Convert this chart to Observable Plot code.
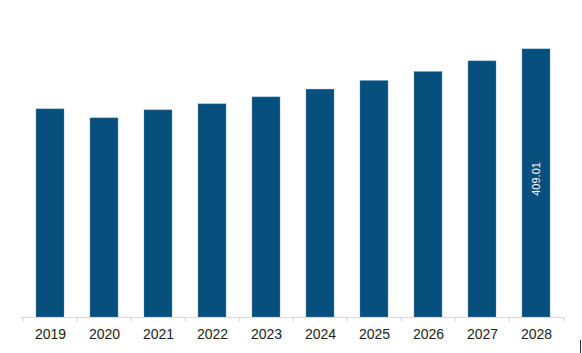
<!DOCTYPE html>
<html>
<head>
<meta charset="utf-8">
<script src="https://cdn.jsdelivr.net/npm/d3@7"></script>
<script src="https://cdn.jsdelivr.net/npm/@observablehq/plot@0.6"></script>
<style>
  html, body { margin: 0; padding: 0; background: #fff; }
  #wrap { position: relative; width: 582px; height: 353px; overflow: hidden; }
  #mark { position: absolute; left: 580px; top: 340px; width: 0; height: 13px; border-left: 1.5px solid #333; }
</style>
</head>
<body>
<div id="wrap"><div id="mark"></div></div>
<script>
const years = ["2019","2020","2021","2022","2023","2024","2025","2026","2027","2028"];
const values = [317.5, 303.8, 316.0, 325.2, 335.8, 347.6, 360.7, 374.4, 390.7, 409.01];
const labelYears = ["2028"];
const labelValues = [409.01];

const data = years.map((y, i) => ({year: y, value: values[i]}));
const labels = labelYears.map((y, i) => ({year: y, value: labelValues[i]}));

const barColor = "#07507e";
const gridColor = "#d9d9d9";
const step = (582 - 21 - 17) / years.length;

const chart = Plot.plot({
  width: 582,
  height: 353,
  marginLeft: 21,
  marginRight: 17,
  marginTop: 22,
  marginBottom: 36,
  style: {fontFamily: "'Liberation Sans', Arial, sans-serif", background: "#fff"},
  x: {domain: years, paddingInner: 0.48, paddingOuter: 0.24, label: null},
  y: {domain: [0, 450], axis: null},
  marks: [
    Plot.barY(data, {x: "year", y: "value", fill: barColor, stroke: "#5f8db0", strokeWidth: 0.6, strokeOpacity: 0.6}),
    Plot.ruleY([0], {stroke: gridColor, strokeWidth: 1.2}),
    Plot.ruleX(years, {x: d => d, y1: 0, y2: 0, insetBottom: -4.5, dx: -step / 2, stroke: gridColor, strokeWidth: 1.2}),
    Plot.ruleX([years[years.length - 1]], {x: d => d, y1: 0, y2: 0, insetBottom: -4.5, dx: step / 2, stroke: gridColor, strokeWidth: 1.2}),
    Plot.axisX({tickSize: 0, tickPadding: 12, fontSize: 14, fill: "#222", label: null}),
    Plot.text(labels, {x: "year", y: d => d.value / 2, dy: -4.5, text: d => d.value.toFixed(2), rotate: -90, fill: "#fff", fontSize: 11})
  ]
});
document.getElementById("wrap").prepend(chart);
</script>
</body>
</html>
